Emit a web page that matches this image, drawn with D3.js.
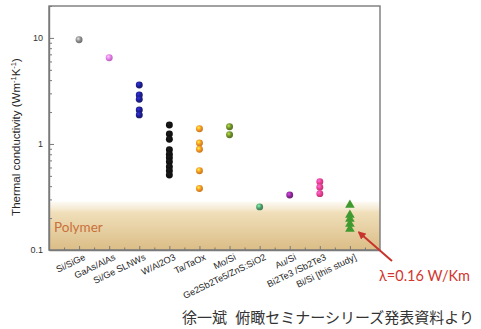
<!DOCTYPE html>
<html><head><meta charset="utf-8">
<script src="https://cdn.jsdelivr.net/npm/d3@7"></script>
<style>
html,body{margin:0;padding:0;background:#fff;}
svg{display:block;}
</style></head>
<body>
<script>
const categories = ["Si/SiGe","GaAs/AlAs","Si/Ge SLNWs","W/Al2O3","Ta/TaOx","Mo/Si","Ge2Sb2Te5/ZnS:SiO2","Au/Si","Bi2Te3 /Sb2Te3","Bi/Si [this study]"];
const values = [
  [9.6],
  [6.5],
  [3.6, 2.9, 2.64, 2.09, 1.88],
  [1.51, 1.24, 1.11, 0.88, 0.80, 0.74, 0.68, 0.61, 0.56, 0.51],
  [1.39, 1.02, 0.89, 0.56, 0.38],
  [1.45, 1.22],
  [0.255],
  [0.33],
  [0.44, 0.39, 0.34],
  [0.266, 0.214, 0.196, 0.176, 0.158]
];
const colors = ["#8a8a8a","#e27ae6","#1e1e8c","#111111","#f29424","#6e8c2a","#4f9a6a","#8a2a96","#e8408e","#3f9a2f"];
const shapes = ["circle","circle","circle","circle","circle","circle","circle","circle","circle","triangle"];
const yTickValues = [0.1, 1, 10];
const yTickLabels = ["0.1", "1", "10"];
const polymerRange = [0.1, 0.285];
const polymerLabel = "Polymer";
const yLabel = "Thermal conductivity (Wm";
const noteText = "λ=0.16 W/Km";
const noteValue = 0.16;
const captionA = "徐一斌";
const captionB = "俯瞰セミナーシリーズ発表資料より";

const W = 481, H = 329;
const svg = d3.select("body").append("svg").attr("width", W).attr("height", H);
const defs = svg.append("defs");

const x = d3.scaleLinear().domain([-1, categories.length]).range([49, 380]);
const y = d3.scaleLog().domain([0.1, 20]).range([250, 6]);

// polymer band gradient
const lg = defs.append("linearGradient").attr("id","poly").attr("x1",0).attr("y1",0).attr("x2",0).attr("y2",1);
lg.append("stop").attr("offset","0%").attr("stop-color","#f6ecd6").attr("stop-opacity",0.3);
lg.append("stop").attr("offset","22%").attr("stop-color","#f0dfba");
lg.append("stop").attr("offset","100%").attr("stop-color","#dbbd86");

svg.append("rect")
  .attr("x", x(-1)).attr("width", x(categories.length) - x(-1))
  .attr("y", y(polymerRange[1])).attr("height", y(polymerRange[0]) - y(polymerRange[1]))
  .attr("fill", "url(#poly)");

svg.append("text").attr("x", 54).attr("y", 232)
  .attr("font-family", "Lato, 'Open Sans', sans-serif").attr("font-size", 13.5)
  .attr("fill", "#c8713a").text(polymerLabel);

// sphere gradients
colors.forEach((c, i) => {
  const rg = defs.append("radialGradient").attr("id", "g" + i)
    .attr("cx", "38%").attr("cy", "35%").attr("r", "65%");
  rg.append("stop").attr("offset", "0%").attr("stop-color", d3.color(c).brighter(1.4));
  rg.append("stop").attr("offset", "55%").attr("stop-color", c);
  rg.append("stop").attr("offset", "100%").attr("stop-color", d3.color(c).darker(0.6));
});

// points
const pts = [];
values.forEach((vs, i) => vs.forEach(v => pts.push({i, v})));
const g = svg.append("g");
g.selectAll("path.pt").data(pts).enter().append("path")
  .attr("class","pt")
  .attr("transform", d => `translate(${x(d.i)},${y(d.v)})`)
  .attr("d", d => d3.symbol().type(shapes[d.i] === "triangle" ? d3.symbolTriangle : d3.symbolCircle)
      .size(shapes[d.i] === "triangle" ? 40 : 38)())
  .attr("fill", d => shapes[d.i] === "triangle" ? colors[d.i] : `url(#g${d.i})`);

// frame
const frameColor = "#7a7a7a";
svg.append("rect").attr("x", x(-1)).attr("y", y(20))
  .attr("width", x(categories.length) - x(-1)).attr("height", y(0.1) - y(20))
  .attr("fill", "none").attr("stroke", frameColor).attr("stroke-width", 1.4);

// y axis
const yMinor = [];
[0.1, 1, 10].forEach(d => { for (let k = 2; k <= 9; k++) if (d * k <= 20) yMinor.push(d * k); });
yMinor.push(20);
const yAxis = d3.axisLeft(y).tickValues(yTickValues).tickFormat((d, i) => yTickLabels[i])
  .tickSizeInner(-5).tickSizeOuter(0).tickPadding(6);
const ya = svg.append("g").attr("transform", `translate(${x(-1)},0)`).call(yAxis);
ya.select(".domain").attr("stroke", frameColor).attr("stroke-width", 1.4);
ya.selectAll(".tick line").attr("stroke", frameColor);
ya.selectAll(".tick text").attr("font-family", "Liberation Sans, Arial, sans-serif").attr("font-size", 9).attr("fill", "#333");
const yAxisMinor = d3.axisLeft(y).tickValues(yMinor).tickFormat("").tickSizeInner(-3).tickSizeOuter(0);
const ym = svg.append("g").attr("transform", `translate(${x(-1)},0)`).call(yAxisMinor);
ym.select(".domain").remove();
ym.selectAll(".tick line").attr("stroke", frameColor);

// x axis
const xMajor = d3.range(categories.length);
const xMinor = d3.range(-0.5, categories.length, 1);
const xa = svg.append("g").attr("transform", `translate(0,${y(0.1)})`)
  .call(d3.axisBottom(x).tickValues(xMajor).tickFormat("").tickSizeInner(-4).tickSizeOuter(0));
xa.select(".domain").attr("stroke", frameColor).attr("stroke-width", 1.4);
xa.selectAll(".tick line").attr("stroke", frameColor);
const xm = svg.append("g").attr("transform", `translate(0,${y(0.1)})`)
  .call(d3.axisBottom(x).tickValues(xMinor).tickFormat("").tickSizeInner(-2.5).tickSizeOuter(0));
xm.select(".domain").remove();
xm.selectAll(".tick line").attr("stroke", frameColor);

svg.append("g").selectAll("text").data(categories).enter().append("text")
  .attr("transform", (d, i) => `translate(${x(i) + 4},${y(0.1) + 3}) rotate(-26)`)
  .attr("dy", "0.75em")
  .attr("text-anchor", "end")
  .attr("font-family", "Liberation Sans, Arial, sans-serif").attr("font-size", 9.2)
  .attr("fill", "#262626").text(d => d);

// y label
const yl = svg.append("text")
  .attr("transform", `translate(20,${(y(20) + y(0.1)) / 2 + 9}) rotate(-90)`)
  .attr("text-anchor", "middle")
  .attr("font-family", "Liberation Sans, Arial, sans-serif").attr("font-size", 11.5)
  .attr("fill", "#262626");
yl.append("tspan").text(yLabel);
yl.append("tspan").attr("dy", -4).attr("font-size", 7.5).text("-1");
yl.append("tspan").attr("dy", 4).text("K");
yl.append("tspan").attr("dy", -4).attr("font-size", 7.5).text("-1");
yl.append("tspan").attr("dy", 4).text(")");

// arrow + note
const red = "#c8342c";
defs.append("marker").attr("id", "ah").attr("viewBox", "0 0 10 10").attr("refX", 8).attr("refY", 5)
  .attr("markerWidth", 4).attr("markerHeight", 4).attr("orient", "auto")
  .append("path").attr("d", "M0,0 L10,5 L0,10 z").attr("fill", red);
const tipX = x(categories.length - 1) + 9, tipY = y(noteValue) + 4;
svg.append("line").attr("x1", 392).attr("y1", 261).attr("x2", tipX).attr("y2", tipY)
  .attr("stroke", red).attr("stroke-width", 2).attr("marker-end", "url(#ah)");
svg.append("text").attr("x", 379).attr("y", 281)
  .attr("font-family", "Lato, 'Open Sans', sans-serif").attr("font-size", 14.5)
  .attr("fill", "#d2362e").text(noteText);

// caption
svg.append("text").attr("x", 182).attr("y", 323)
  .attr("font-family", "'Noto Sans CJK JP', sans-serif").attr("font-size", 15)
  .attr("fill", "#333").text(captionA);
svg.append("text").attr("x", 474).attr("y", 323).attr("text-anchor", "end")
  .attr("font-family", "'Noto Sans CJK JP', sans-serif").attr("font-size", 15)
  .attr("fill", "#333").text(captionB);
</script>
</body></html>
